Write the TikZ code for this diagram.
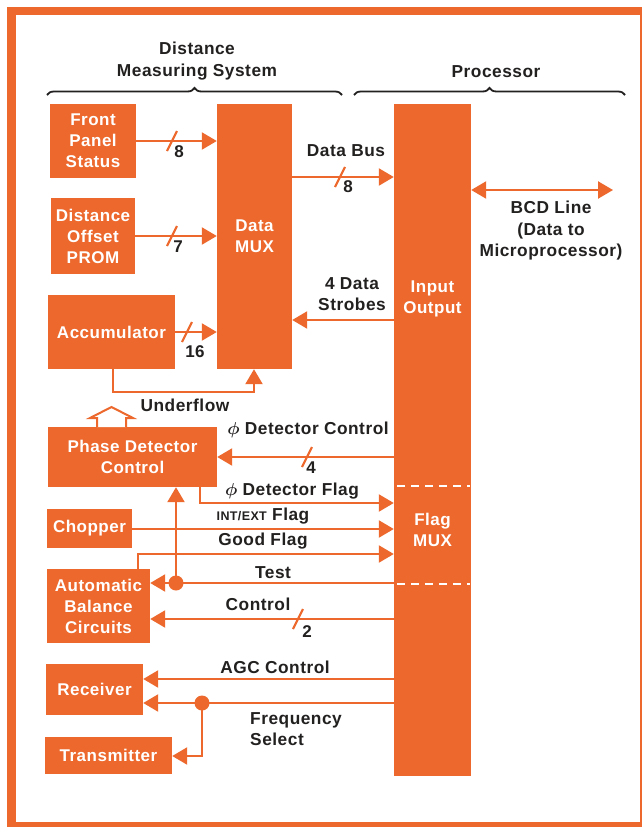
\documentclass[tikz,border=0pt]{standalone}
\usepackage{fontspec}
\usepackage{bm}
\setmainfont{Liberation Sans}[LetterSpace=3]
\usetikzlibrary{arrows.meta,decorations.pathreplacing,calc}
\definecolor{org}{RGB}{236,104,44}
\definecolor{ink}{RGB}{35,32,32}
\newcommand{\busmark}[2]{\draw[wire] (#1-5,#2+10) -- (#1+5,#2-10);}
\begin{document}
\begin{tikzpicture}[x=1pt,y=-1pt,
  box/.style={fill=org, draw=none, text=white, font=\fontsize{17}{21}\selectfont\bfseries, align=center, inner sep=0pt},
  boxtext/.style={text=white, font=\fontsize{17}{21}\selectfont\bfseries, align=center, inner sep=0pt},
  lab/.style={text=ink, font=\fontsize{17.3}{21.5}\selectfont\bfseries, align=center, inner sep=0pt},
  num/.style={text=ink, font=\fontsize{17}{21}\selectfont\bfseries, inner sep=0pt},
  wire/.style={draw=org, line width=2.2pt},
  arr/.style={wire, -{Triangle[length=15pt,width=17pt]}},
  darr/.style={wire, {Triangle[length=15pt,width=17pt]}-{Triangle[length=15pt,width=17pt]}},
  dot/.style={circle, fill=org, draw=none, minimum size=15pt, inner sep=0pt},
  brc/.style={draw=ink, line width=1.8pt, decorate, decoration={brace, amplitude=7pt}}
]
\useasboundingbox (0,0) rectangle (642,827);
% frame
\fill[org] (7,7) rectangle (642,827);
\fill[white] (16,15) rectangle (640,822);

% headings and braces
\node[lab] (hdms) at (197,61) {Distance\\Measuring System};
\node[lab] (hproc) at (496,72) {Processor};
\draw[brc] (47,95) -- (342,95);
\draw[brc] (354,95) -- (625,95);

% blocks
\node[box, minimum width=86pt, minimum height=74pt] (fps) at (93,141) {Front\\Panel\\Status};
\node[box, minimum width=84pt, minimum height=76pt] (dop) at (93,236) {Distance\\Offset\\PROM};
\node[box, minimum width=75pt, minimum height=265pt] (mux) at (254.5,236.5) {Data\\MUX};
\node[box, minimum width=127pt, minimum height=74pt] (acc) at (111.5,332) {Accumulator};
\node[box, minimum width=77pt, minimum height=672pt] (io) at (432.5,440) {};
\node[boxtext] (iolab) at (432.5,299) {Input\\Output};
\node[boxtext] (flaglab) at (432.5,530) {Flag\\MUX};
\draw[white, line width=1.5pt, dash pattern=on 8pt off 6pt] (397,486) -- (470,486);
\draw[white, line width=1.5pt, dash pattern=on 8pt off 6pt] (397,584) -- (470,584);
\node[box, minimum width=169pt, minimum height=60pt] (pdc) at (132.5,457) {Phase Detector\\Control};
\node[box, minimum width=85pt, minimum height=39pt] (chop) at (89.5,528.5) {Chopper};
\node[box, minimum width=103pt, minimum height=74pt] (abc) at (98.5,606) {Automatic\\Balance\\Circuits};
\node[box, minimum width=97pt, minimum height=51pt] (rcv) at (94.5,689.5) {Receiver};
\node[box, minimum width=127pt, minimum height=37pt] (tx) at (108.5,755.5) {Transmitter};

% inputs to data mux
\draw[arr] (fps.east) -- (fps.east -| mux.west);
\busmark{172}{141}
\node[num] (n8a) at (179,152) {8};
\draw[arr] (dop.east) -- (dop.east -| mux.west);
\busmark{172}{236}
\node[num] (n7) at (178,247) {7};
\draw[arr] (acc.east) -- (acc.east -| mux.west);
\busmark{187}{332}
\node[num] (n16) at (195,352) {16};

% data bus
\coordinate (ydb) at (0,177);
\draw[arr] (ydb -| mux.east) -- (ydb -| io.west);
\busmark{340}{177}
\node[lab] (ldb) at (346,151) {Data Bus};
\node[num] (n8b) at (348,187) {8};

% BCD line
\coordinate (bcdR) at (613,190);
\draw[darr] (bcdR -| io.east) -- (bcdR);
\node[lab] (lbcd) at (551,231) {BCD Line\\(Data to\\Microprocessor)};

% strobes
\coordinate (yst) at (0,320);
\draw[arr] (yst -| io.west) -- (yst -| mux.east);
\node[lab] (lst) at (352,294) {4 Data\\Strobes};

% underflow
\coordinate (ufL) at (113,392);
\coordinate (ufR) at (254,392);
\draw[arr] (ufL |- acc.south) -- (ufL) -- (ufR) -- (ufR |- mux.south);
\node[lab] (luf) at (185,405) {Underflow};

% hollow arrow above phase detector control
\draw[org, line width=2pt, fill=white, line join=miter]
  (97,427) -- (97,418) -- (90,418) -- (111.5,407) -- (133,418) -- (126,418) -- (126,427);

% phi detector control
\draw[arr] (pdc.east -| io.west) -- (pdc.east);
\busmark{307}{457}
\node[num] (n4) at (311,468) {4};
\node[lab] (lpdc) at (308,430) {$\bm{\phi}$ Detector Control};

% phi detector flag
\coordinate (pfl) at (200,503);
\draw[arr] (pfl |- pdc.south) -- (pfl) -- (pfl -| io.west);
\node[lab] (lpfl) at (292,491) {$\bm{\phi}$ Detector Flag};

% INT/EXT flag
\coordinate (yie) at (0,529);
\draw[arr] (yie -| chop.east) -- (yie -| io.west);
\node[lab] (lie) at (263,516) {{\fontsize{12.5}{14}\selectfont INT/EXT} Flag};

% good flag
\coordinate (gfl) at (138,554);
\draw[arr] (gfl |- abc.north) -- (gfl) -- (gfl -| io.west);
\node[lab] (lgf) at (263,541) {Good Flag};

% test
\node[dot] (dtest) at (176,583) {};
\coordinate (yts) at (0,583);
\draw[arr] (yts -| io.west) -- (yts -| abc.east);
\draw[arr] (dtest.center) -- (dtest.center |- pdc.south);
\node[lab] (lts) at (273,573) {Test};

% control
\coordinate (yct) at (0,619);
\draw[arr] (yct -| io.west) -- (yct -| abc.east);
\busmark{298}{619}
\node[num] (n2) at (307,632) {2};
\node[lab] (lct) at (258,604) {Control};

% AGC control
\coordinate (yagc) at (0,679);
\draw[arr] (yagc -| io.west) -- (yagc -| rcv.east);
\node[lab] (lagc) at (275,667) {AGC Control};

% frequency select
\node[dot] (dfs) at (202,703) {};
\coordinate (yfs) at (0,703);
\coordinate (fsb) at (202,756);
\draw[arr] (yfs -| io.west) -- (yfs -| rcv.east);
\draw[arr] (dfs.center) -- (fsb) -- (fsb -| tx.east);
\node[lab, align=left, anchor=west] (lfs) at (250,729) {Frequency\\Select};
\end{tikzpicture}
\end{document}
